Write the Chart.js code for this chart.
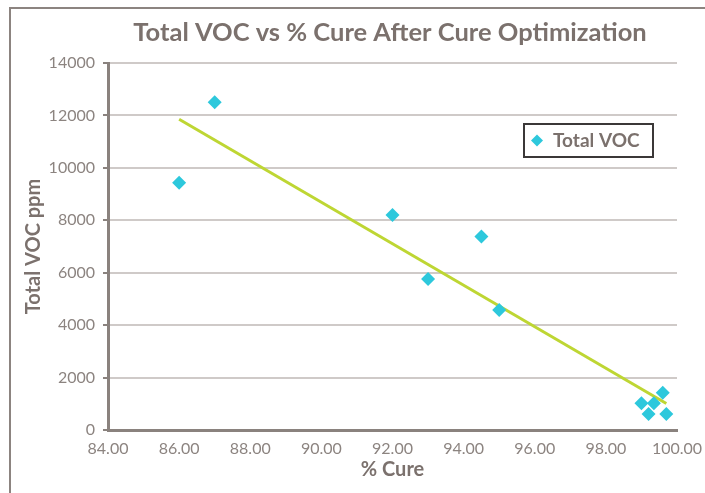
<!DOCTYPE html>
<html>
<head>
<meta charset="utf-8">
<script src="https://cdn.jsdelivr.net/npm/chart.js@4.4.1/dist/chart.umd.min.js"></script>
<style>
  html, body { margin: 0; padding: 0; background: #fff; overflow: hidden; }
  #wrap { position: relative; width: 705px; height: 493px; }
  #frame {
    position: absolute; left: 9px; top: 7px; width: 800px; height: 600px;
    border: 2px solid #8c8480; box-sizing: border-box; pointer-events: none;
  }
  canvas { position: absolute; left: 0; top: 0; }
</style>
</head>
<body>
<div id="wrap">
  <canvas id="chart" width="705" height="493"></canvas>
  <div id="frame"></div>
</div>
<script>
const chartTitle = 'Total VOC vs % Cure After Cure Optimization';
const xTitle = '% Cure';
const yTitle = 'Total VOC ppm';
const seriesName = 'Total VOC';

const cure = [86.0, 87.0, 92.0, 93.0, 94.5, 95.0, 99.0, 99.2, 99.35, 99.6, 99.7];
const voc = [9430, 12500, 8200, 5760, 7380, 4580, 1020, 610, 1020, 1420, 610];

const xMin = 84, xMax = 100, xStep = 2;
const yMin = 0, yMax = 14000, yStep = 2000;

const textColor = '#7b716d';
const tickColor = '#8c8480';
const axisColor = '#8a827e';
const gridColor = '#cfcac8';
const markerColor = '#2dc8dc';
const trendColor = '#bed633';

// linear trendline (least squares) over the data
const n = cure.length;
const mx = cure.reduce((a, b) => a + b, 0) / n;
const my = voc.reduce((a, b) => a + b, 0) / n;
let sxy = 0, sxx = 0;
cure.forEach((x, i) => { sxy += (x - mx) * (voc[i] - my); sxx += (x - mx) * (x - mx); });
const slope = sxy / sxx;
const x0 = Math.min(...cure), x1 = Math.max(...cure);
const trend = [
  { x: x0, y: my + slope * (x0 - mx) },
  { x: x1, y: my + slope * (x1 - mx) }
];

const extras = {
  id: 'extras',
  afterDraw(chart) {
    const { ctx, chartArea } = chart;
    ctx.save();
    // chart title
    ctx.fillStyle = textColor;
    ctx.font = 'bold 25.5px Lato';
    ctx.textAlign = 'center';
    ctx.textBaseline = 'middle';
    ctx.fillText(chartTitle, 390, 33);

    // legend box
    const lx = chartArea.left + 416, ly = chartArea.top + 61, lw = 129, lh = 33;
    ctx.fillStyle = '#fff';
    ctx.fillRect(lx, ly, lw, lh);
    ctx.strokeStyle = '#3b3838';
    ctx.lineWidth = 2;
    ctx.strokeRect(lx, ly, lw, lh);
    const cx = lx + 13, cy = ly + lh / 2, r = 6;
    ctx.fillStyle = markerColor;
    ctx.beginPath();
    ctx.moveTo(cx, cy - r); ctx.lineTo(cx + r, cy); ctx.lineTo(cx, cy + r); ctx.lineTo(cx - r, cy);
    ctx.closePath();
    ctx.fill();
    ctx.fillStyle = textColor;
    ctx.font = 'bold 19px Lato';
    ctx.textAlign = 'left';
    ctx.fillText(seriesName, lx + 29, cy);
    ctx.restore();
  }
};

new Chart(document.getElementById('chart'), {
  type: 'scatter',
  data: {
    datasets: [
      {
        label: seriesName,
        data: cure.map((x, i) => ({ x: x, y: voc[i] })),
        backgroundColor: markerColor,
        borderColor: markerColor,
        pointStyle: 'rectRot',
        pointRadius: 7,
        pointBorderWidth: 0,
        order: 1
      },
      {
        label: 'trend',
        type: 'line',
        data: trend,
        borderColor: trendColor,
        borderWidth: 3,
        pointRadius: 0,
        fill: false,
        order: 2
      }
    ]
  },
  options: {
    responsive: false,
    animation: false,
    layout: { padding: { left: 0, right: 28, top: 63, bottom: 0 } },
    plugins: {
      legend: { display: false },
      title: { display: false },
      tooltip: { enabled: false }
    },
    scales: {
      x: {
        type: 'linear',
        min: xMin,
        max: xMax,
        ticks: {
          stepSize: xStep,
          color: tickColor,
          font: { family: 'Lato', size: 16 },
          padding: 9,
          callback: v => v.toFixed(2)
        },
        grid: { display: false, drawTicks: false },
        border: { display: true, color: axisColor, width: 3 },
        title: {
          display: true,
          text: xTitle,
          color: textColor,
          font: { family: 'Lato', size: 20, weight: 'bold' },
          padding: { top: 0, bottom: 11 }
        },
        afterFit: s => { s.height = 63; s.paddingLeft = 0; s.paddingRight = 0; }
      },
      y: {
        min: yMin,
        max: yMax,
        ticks: {
          stepSize: yStep,
          color: tickColor,
          font: { family: 'Lato', size: 16 },
          padding: 8,
          callback: v => String(v)
        },
        grid: {
          color: gridColor,
          lineWidth: 2,
          tickColor: axisColor,
          tickLength: 5,
          tickWidth: 2
        },
        border: { display: true, color: axisColor, width: 3 },
        title: {
          display: true,
          text: yTitle,
          color: textColor,
          font: { family: 'Lato', size: 20, weight: 'bold' },
          padding: { top: 22, bottom: 0 }
        },
        afterFit: s => { s.width = 108; s.paddingTop = 0; s.paddingBottom = 0; }
      }
    }
  },
  plugins: [extras]
});
</script>
</body>
</html>
